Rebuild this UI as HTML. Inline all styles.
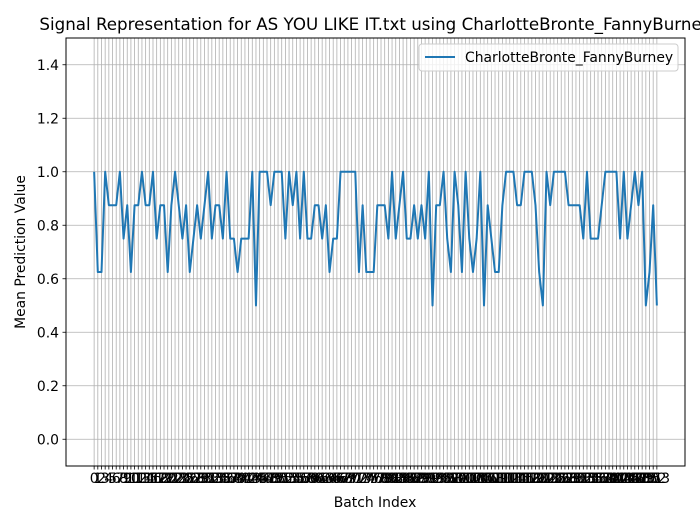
<!DOCTYPE html>
<html><head><meta charset="utf-8"><style>
body{margin:0;background:#fff}
svg{display:block;font-family:"DejaVu Sans","Liberation Sans",sans-serif}
</style></head><body>
<svg id="chart" width="700" height="525" viewBox="0 0 700 525" xmlns="http://www.w3.org/2000/svg">
<rect width="700" height="525" fill="#fff"/>
<text x="375.5" y="30" font-size="16.7" text-anchor="middle">Signal Representation for AS YOU LIKE IT.txt using CharlotteBronte_FannyBurney</text>
<g id="grid"></g>
<g id="yticks"></g>
<g id="xticks"></g>
<path id="series" fill="none" stroke="#1f77b4" stroke-width="2" stroke-linejoin="round"/>
<rect x="66" y="38" width="619" height="428" fill="none" stroke="#000" stroke-width="1"/>
<text x="375" y="507" font-size="13.9" text-anchor="middle">Batch Index</text>
<text x="25" y="252" font-size="13.9" text-anchor="middle" transform="rotate(-90 25 252)">Mean Prediction Value</text>
<g>
<rect x="419" y="44" width="259" height="27" rx="3" fill="#fff" fill-opacity="0.8" stroke="#ccc"/>
<line x1="425" y1="57" x2="455" y2="57" stroke="#1f77b4" stroke-width="2"/>
<text x="465" y="62" font-size="13.9">CharlotteBronte_FannyBurney</text>
</g>
</svg>
<script>
const values = [1,0.625,0.625,1,0.875,0.875,0.875,1,0.75,0.875,0.625,0.875,0.875,1,0.875,0.875,1,0.75,0.875,0.875,
0.625,0.875,1,0.875,0.75,0.875,0.625,0.75,0.875,0.75,0.875,1,0.75,0.875,0.875,0.75,1,0.75,0.75,0.625,
0.75,0.75,0.75,1,0.5,1,1,1,0.875,1,1,1,0.75,1,0.875,1,0.75,1,0.75,0.75,
0.875,0.875,0.75,0.875,0.625,0.75,0.75,1,1,1,1,1,0.625,0.875,0.625,0.625,0.625,0.875,0.875,0.875,
0.75,1,0.75,0.875,1,0.75,0.75,0.875,0.75,0.875,0.75,1,0.5,0.875,0.875,1,0.75,0.625,1,0.875,
0.625,1,0.75,0.625,0.75,1,0.5,0.875,0.75,0.625,0.625,0.875,1,1,1,0.875,0.875,1,1,1,
0.875,0.625,0.5,1,0.875,1,1,1,1,0.875,0.875,0.875,0.875,0.75,1,0.75,0.75,0.75,0.875,1,
1,1,1,0.75,1,0.75,0.875,1,0.875,1,0.5,0.625,0.875,0.5];
const yTicks = [0.0,0.2,0.4,0.6,0.8,1.0,1.2,1.4];
const NS="http://www.w3.org/2000/svg";
const nPts = values.length;
const pL=66,pR=685,pT=38,pB=466;
const xMin=-(nPts-1)*0.05, xMax=(nPts-1)*1.05;
const X = i => pL + (i - xMin)/(xMax - xMin)*(pR-pL);
const Y = v => pB - (v + 0.1)/1.6*(pB-pT);
const gridG=document.getElementById('grid'), ytG=document.getElementById('yticks'), xtG=document.getElementById('xticks');
function mk(tag,attrs,parent){const e=document.createElementNS(NS,tag);for(const k in attrs)e.setAttribute(k,attrs[k]);parent.appendChild(e);return e;}
for(let i=0;i<nPts;i++){
  const x=X(i);
  const g=mk('line',{x1:x,x2:x,y1:pT,y2:pB,stroke:'#b0b0b0','stroke-width':0.8},gridG);
  
  
  const t=mk('line',{x1:x,x2:x,y1:pB,y2:pB+3.5,stroke:'#000','stroke-width':0.8},xtG);
  
  
  const l=mk('text',{x:x,y:pB+17,'font-size':13.9,'text-anchor':'middle'},xtG);
  l.textContent=String(i);
  
  
}
yTicks.forEach(v=>{
  const y=Y(v);
  const g=mk('line',{x1:pL,x2:pR,y1:y,y2:y,stroke:'#b0b0b0','stroke-width':0.8},gridG);
  
  
  const t=mk('line',{x1:pL-3.5,x2:pL,y1:y,y2:y,stroke:'#000','stroke-width':0.8},ytG);
  
  
  const l=mk('text',{x:pL-7,y:y+5,'font-size':13.9,'text-anchor':'end'},ytG);
  l.textContent=v.toFixed(1);
  
  
});
document.getElementById('series').setAttribute('d',values.map((v,i)=>(i?'L':'M')+X(i).toFixed(2)+' '+Y(v).toFixed(2)).join(' '));
</script>
</body></html>
